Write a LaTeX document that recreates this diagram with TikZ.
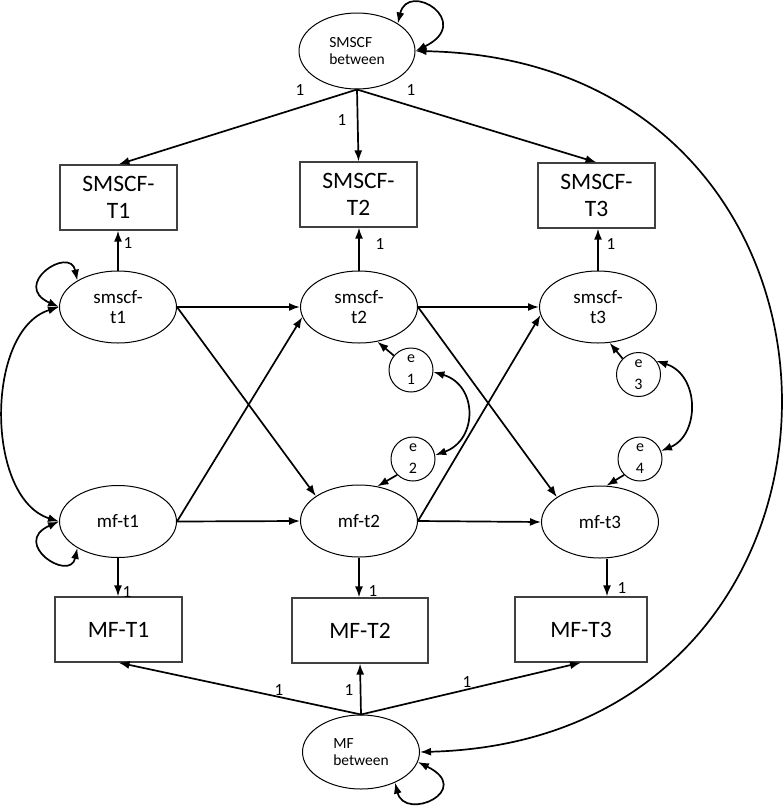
\documentclass[tikz,border=0pt]{standalone}
\usepackage{fontspec}
\setmainfont{Carlito}
\usetikzlibrary{arrows.meta,shapes.geometric}
\begin{document}
\begin{tikzpicture}[x=1pt,y=-1pt,
  lat/.style={ellipse,draw,line width=1pt,minimum width=117pt,minimum height=72pt,inner sep=0pt,align=center,font=\fontsize{19}{20}\selectfont},
  obs/.style={rectangle,draw=black!75,line width=1.2pt,minimum height=65pt,inner sep=0pt,align=center,font=\fontsize{23.5}{27}\selectfont},
  err/.style={circle,draw,line width=1pt,minimum size=44pt,inner sep=0pt,align=center,font=\fontsize{16}{22}\selectfont},
  lab/.style={inner sep=0pt,font=\fontsize{17}{17}\selectfont},
  arr/.style={line width=1.7pt,-{Latex[length=11pt,width=8pt]}},
  darr/.style={line width=1.7pt,{Latex[length=11pt,width=8pt]}-{Latex[length=11pt,width=8pt]}}
]
\useasboundingbox (0,0) rectangle (784,811);

\node[lat,align=left,font=\fontsize{15.5}{17}\selectfont,minimum width=116pt,minimum height=76pt] (SB) at (357,51) {SMSCF\\between};
\node[lat,align=left,font=\fontsize{15.5}{17}\selectfont,minimum width=117pt,minimum height=74pt] (MB) at (361,752) {MF\\between};

\node[lat] (S1) at (118,307) {smscf-\\t1};
\node[lat] (S2) at (359,307) {smscf-\\t2};
\node[lat] (S3) at (598,307) {smscf-\\t3};
\node[lat] (M1) at (118,521.5) {mf-t1};
\node[lat] (M2) at (359,521) {mf-t2};
\node[lat] (M3) at (600,522) {mf-t3};

\node[obs,minimum width=117pt] (B1) at (118.5,197.5) {SMSCF-\\T1};
\node[obs,minimum width=117pt] (B2) at (358.5,194.5) {SMSCF-\\T2};
\node[obs,minimum width=117pt] (B3) at (596.5,195.5) {SMSCF-\\T3};
\node[obs,minimum width=127pt] (C1) at (118.5,629.5) {MF-T1};
\node[obs,minimum width=136pt] (C2) at (360,630.5) {MF-T2};
\node[obs,minimum width=132pt] (C3) at (581,629.5) {MF-T3};

\node[err] (E1) at (411,370) {e\\1};
\node[err] (E2) at (413,459) {e\\2};
\node[err] (E3) at (638.5,374.5) {e\\3};
\node[err] (E4) at (640,459) {e\\4};

\draw[arr] (SB.south) -- (B1.north);
\draw[arr] (SB.south) -- (B2.north);
\draw[arr] (SB.south) -- (B3.north);
\draw[arr] (S1.north) -- (S1.north |- B1.south);
\draw[arr] (S2.north) -- (S2.north |- B2.south);
\draw[arr] (S3.north) -- (S3.north |- B3.south);
\draw[arr] (M1.south) -- (M1.south |- C1.north);
\draw[arr] (M2.south) -- (M2.south |- C2.north);
\draw[arr] ([xshift=7pt]M3.south) -- ([xshift=7pt]M3.south |- C3.north);
\draw[arr] (MB.north) -- (C1.south);
\draw[arr] (MB.north) -- (C2.south);
\draw[arr] (MB.north) -- (C3.south);

\draw[arr] (S1.east) -- (S2.west);
\draw[arr] (S1.east) -- (M2.150);
\draw[arr] (M1.east) -- (S2.190);
\draw[arr] (M1.east) -- (M2.west);
\draw[arr] (S2.east) -- (S3.west);
\draw[arr] (S2.east) -- (M3.150);
\draw[arr] (M2.east) -- (S3.188);
\draw[arr] (M2.east) -- (M3.west);

\draw[arr] (E1.140) -- (S2.-62);
\draw[arr] (E2.225) -- (M2.62);
\draw[arr] (E3.135) -- (S3.-72);
\draw[arr] (E4.225) -- (M3.80);
\draw[darr] (E1.-5) .. controls (478,385) and (478,440) .. (E2.10);
\draw[darr] (E3.37) .. controls (700,375) and (700,435) .. (E4.21);

\draw[darr] (SB.34) .. controls (408,-20) and (475,22) .. (SB.east);
\draw[darr] (S1.147) .. controls (70,245) and (10,285) .. (S1.west);
\draw[darr] (M1.213) .. controls (70,583) and (10,543) .. (M1.west);
\draw[darr] (MB.-42) .. controls (405,822) and (475,790) .. (MB.-10);
\draw[darr] (S1.west) .. controls (-15,330) and (-15,498) .. (M1.west);
\draw[darr] (SB.east) .. controls (900,60) and (900,740) .. (MB.east);

\node[lab] (L1) at (300,90) {1};
\node[lab] (L2) at (342,120) {1};
\node[lab] (L3) at (411,90) {1};
\node[lab] (L4) at (128,243) {1};
\node[lab] (L5) at (380,244) {1};
\node[lab] (L6) at (611,244) {1};
\node[lab] (L7) at (127,592) {1};
\node[lab] (L8) at (373,591) {1};
\node[lab] (L9) at (622,588) {1};
\node[lab] (L10) at (279,690) {1};
\node[lab] (L11) at (349,690) {1};
\node[lab] (L12) at (467,682) {1};
\end{tikzpicture}
\end{document}
